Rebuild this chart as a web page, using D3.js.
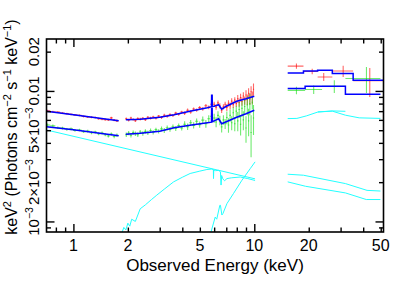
<!DOCTYPE html>
<html>
<head>
<meta charset="utf-8">
<script src="https://cdn.jsdelivr.net/npm/d3@7"></script>
<style>
body { margin: 0; background: #fff; }
svg { display: block; font-family: "Liberation Sans", Arial, Helvetica, sans-serif; }
</style>
</head>
<body>
<svg id="chart" width="399" height="291"></svg>
<script>
// ---- data (keV, keV^2 photons cm^-2 s^-1 keV^-1) ----
// soft band, below the 1.8-1.95 keV gap
const softE = [0.72, 0.77, 0.82, 0.87, 0.92, 0.97, 1.02, 1.08, 1.14, 1.2, 1.26, 1.32, 1.38, 1.44, 1.5, 1.56, 1.62, 1.68, 1.74];
const redSoft = [0.00705, 0.00692, 0.00688, 0.00676, 0.00670, 0.00662, 0.00655, 0.00650, 0.00638, 0.00632, 0.00628, 0.00626, 0.00612, 0.00608, 0.00603, 0.00600, 0.00622, 0.00598, 0.00590];
const redSoftErr = [0.00012, 0.00012, 0.00011, 0.00011, 0.00011, 0.00011, 0.00011, 0.00011, 0.00011, 0.00011, 0.00011, 0.00011, 0.00011, 0.00011, 0.00011, 0.00012, 0.00012, 0.00012, 0.00013];
const greenSoft = [0.00548, 0.00540, 0.00522, 0.00519, 0.00508, 0.00512, 0.00498, 0.00502, 0.00488, 0.00493, 0.00478, 0.00484, 0.00470, 0.00476, 0.00462, 0.00452, 0.00468, 0.00447, 0.00458];
const greenSoftErr = [0.00014, 0.00013, 0.00012, 0.00012, 0.00012, 0.00012, 0.00012, 0.00012, 0.00012, 0.00012, 0.00012, 0.00012, 0.00012, 0.00012, 0.00012, 0.00013, 0.00013, 0.00013, 0.00014];

// 1.95 - 10 keV
const midE = [1.96, 2.02, 2.08, 2.14, 2.2, 2.27, 2.34, 2.42, 2.5, 2.58, 2.67, 2.76, 2.86, 2.96, 3.07, 3.18, 3.3, 3.42, 3.55, 3.68,
  3.82, 3.97, 4.12, 4.28, 4.45, 4.62, 4.8, 4.99, 5.19, 5.4, 5.6, 5.8,
  6.0, 6.15, 6.3, 6.45, 6.6, 6.75, 6.9, 7.05, 7.2, 7.35, 7.5, 7.65, 7.8, 7.95, 8.1, 8.25, 8.4, 8.55, 8.7, 8.85, 9.0, 9.15, 9.3, 9.45, 9.6, 9.75, 9.9];
const redMid = [0.00612, 0.00598, 0.00620, 0.00604, 0.00592, 0.00615, 0.00608, 0.00618, 0.00603, 0.00628, 0.00619, 0.00632, 0.00617, 0.00641, 0.00626, 0.00652, 0.00640, 0.00658, 0.00648, 0.00676,
  0.00662, 0.00689, 0.00675, 0.00712, 0.00690, 0.00728, 0.00714, 0.00745, 0.00730, 0.00770, 0.00748, 0.00790,
  0.00790, 0.00752, 0.00810, 0.00770, 0.00712, 0.00755, 0.00790, 0.00748, 0.00805, 0.00770, 0.00835, 0.00786, 0.00850, 0.00800, 0.00872, 0.00815, 0.00890, 0.00830, 0.00915, 0.00845, 0.00930, 0.00860, 0.00960, 0.00870, 0.00985, 0.00890, 0.01030];
const redMidErr = [0.00014, 0.00014, 0.00014, 0.00014, 0.00014, 0.00014, 0.00014, 0.00014, 0.00014, 0.00014, 0.00014, 0.00014, 0.00014, 0.00014, 0.00016, 0.00016, 0.00016, 0.00016, 0.00016, 0.00016,
  0.00016, 0.00016, 0.0002, 0.0002, 0.0002, 0.0002, 0.0002, 0.0002, 0.00024, 0.00024, 0.00024, 0.00024,
  0.00035, 0.00035, 0.00035, 0.00035, 0.00035, 0.00035, 0.00035, 0.00045, 0.00045, 0.00045, 0.00045, 0.00045, 0.00045, 0.00045, 0.0006, 0.0006, 0.0006, 0.0006, 0.0006, 0.0006, 0.0008, 0.0008, 0.0009, 0.0009, 0.001, 0.001, 0.0011];
const greenMid = [0.00462, 0.00475, 0.00458, 0.00480, 0.00470, 0.00462, 0.00485, 0.00472, 0.00490, 0.00478, 0.00498, 0.00482, 0.00505, 0.00490, 0.00512, 0.00498, 0.00522, 0.00508, 0.00530, 0.00515,
  0.00542, 0.00520, 0.00556, 0.00532, 0.00570, 0.00545, 0.00585, 0.00552, 0.00598, 0.00560, 0.00612, 0.00640,
  0.00620, 0.00578, 0.00650, 0.00595, 0.00530, 0.00600, 0.00560, 0.00625, 0.00548, 0.00650, 0.00570, 0.00680, 0.00560, 0.00700, 0.00590, 0.00720, 0.00555, 0.00735, 0.00600, 0.00760, 0.00520, 0.00780, 0.00590, 0.00800, 0.00480, 0.00820, 0.00620];
const greenMidErr = [0.00018, 0.00018, 0.00018, 0.00018, 0.00018, 0.00018, 0.00018, 0.00018, 0.00018, 0.00018, 0.00018, 0.00018, 0.00018, 0.00018, 0.00022, 0.00022, 0.00022, 0.00022, 0.00022, 0.00022,
  0.00022, 0.00022, 0.0003, 0.0003, 0.0003, 0.0003, 0.0003, 0.0003, 0.00038, 0.00038, 0.00038, 0.00038,
  0.0005, 0.0005, 0.0005, 0.0005, 0.0005, 0.0005, 0.0005, 0.0007, 0.0007, 0.0007, 0.0007, 0.0007, 0.0007, 0.0007, 0.001, 0.001, 0.001, 0.001, 0.001, 0.001, 0.0012, 0.0013, 0.0014, 0.0015, 0.0017, 0.0010, 0.0016];

// hard band bins (15 - 52 keV)
const redHardLo = [15.3, 18.7, 22.4, 27.0, 35.2];
const redHardHi = [18.7, 22.4, 27.0, 35.2, 52];
const redHardE = [17.1, 20.9, 24.2, 31.0, 43.5];
const redHard = [0.0155, 0.0141, 0.0128, 0.0142, 0.0120];
const redHardErr = [0.0007, 0.0007, 0.0009, 0.0014, 0.0030];
const greenHardLo = [15.3, 19.1, 23.7, 31.9];
const greenHardHi = [19.1, 23.7, 31.9, 49.8];
const greenHardE = [17.1, 21.3, 27.7, 41.7];
const greenHard = [0.0101, 0.01025, 0.01086, 0.01245];
const greenHardErr = [0.00066, 0.00077, 0.0012, 0.0028];

// folded models (blue); null = gap between bands
const modelE = [0.71, 1.0, 1.78, 1.86, 1.95, 2.34, 3.0, 3.6, 4.4, 5.5, 5.8, 5.81, 5.85, 5.86, 6.0, 6.35, 6.6, 7.0, 8.0, 9.0, 10.0];
const model1 = [0.00699, 0.00657, 0.00591, null, 0.00602, 0.00607, 0.00629, 0.00657, 0.00699, 0.00743, 0.00757, 0.00927, 0.00927, 0.00760, 0.00763, 0.00784, 0.00724, 0.00763, 0.00834, 0.00872, 0.00911];
const model2 = [0.00532, 0.00504, 0.00454, null, 0.00466, 0.00474, 0.00491, 0.00522, 0.00546, 0.00571, 0.00576, 0.00737, 0.00737, 0.00581, 0.00590, 0.00612, 0.00561, 0.00581, 0.00629, 0.00669, 0.00711];
const model1Hard = [0.01374, 0.01423, 0.01441, 0.01359, 0.01208];
const model2Hard = [0.01043, 0.01086, 0.01086, 0.00943];

// model components (cyan)
const powE = [0.71, 10.1];
const powV = [0.00502, 0.00212];
const reflE = [1.85, 1.9, 1.95, 2.0, 2.05, 2.1, 2.2, 2.34, 2.5, 2.7, 2.89, 3.2, 3.58, 4.0, 4.42, 5.0, 5.47, 5.8, 5.94, 5.95, 5.97, 6.1, 6.35, 6.5, 6.55, 6.6, 6.7, 6.85, 7.06, 7.5, 8.37, 9.2, 10.1];
const reflV = [0.00081, 0.00090, 0.00086, 0.00097, 0.00092, 0.00104, 0.00100, 0.00125, 0.00134, 0.00147, 0.00159, 0.00178, 0.00201, 0.00218, 0.00233, 0.00243, 0.00250, 0.00252, 0.00250, 0.00213, 0.00248, 0.00245, 0.00246, 0.00240, 0.00190, 0.00225, 0.00212, 0.00205, 0.00213, 0.00216, 0.00219, 0.00213, 0.00206];
const hotE = [5.6, 6.08, 6.2, 6.45, 6.5, 6.62, 6.71, 7.06, 7.68, 8.55, 9.5, 10.1];
const hotV = [0.00072, 0.00108, 0.00104, 0.00133, 0.00133, 0.00112, 0.00115, 0.00137, 0.00164, 0.00207, 0.00254, 0.00286];
const humpE = [15.3, 17.2, 19.5, 22.5, 27, 31.9];
const humpV = [0.00614, 0.00616, 0.00645, 0.00690, 0.00703, 0.00698];
const hump2E = [22.5, 27, 31.9, 38, 49.8];
const hump2V = [0.00690, 0.00700, 0.00652, 0.00622, 0.00616];
const tailE = [15.3, 18.7, 31.9, 42, 49.8];
const tailV = [0.00230, 0.00226, 0.00195, 0.00173, 0.00171];
const tail2E = [15.3, 19.2, 31.9, 41.6, 49.8];
const tail2V = [0.00201, 0.00186, 0.001654, 0.001472, 0.001472];

// axis ticks
const xMajor = [1, 10];
const xMinor = [0.8, 0.9, 2, 3, 4, 5, 6, 7, 8, 9, 20, 30, 40, 50];
const xLabels = [1, 2, 5, 10, 20, 50];
const yMajor = [0.001, 0.01];
const yMinor = [0.0009, 0.002, 0.003, 0.004, 0.005, 0.006, 0.007, 0.008, 0.009, 0.02];
const yLabelVals = [0.001, 0.002, 0.005, 0.01, 0.02];
const yLabelBase = ["10", "2\u00d710", "5\u00d710", "0.01", "0.02"];
const yLabelExp = ["\u22123", "\u22123", "\u22123", "", ""];

// ---- layout ----
const margin = {top: 39, right: 15.5, bottom: 59, left: 46.5};
const width = 399 - margin.left - margin.right;
const height = 291 - margin.top - margin.bottom;

const x = d3.scaleLog().domain([0.71, 51.8]).range([0, width]);
const y = d3.scaleLog().domain([8.3e-4, 0.025]).range([height, 0]);

const svg = d3.select("#chart");
const g = svg.append("g").attr("transform", `translate(${margin.left},${margin.top})`);

svg.append("defs").append("clipPath").attr("id", "plotclip")
  .append("rect").attr("width", width).attr("height", height);

const plot = g.append("g").attr("clip-path", "url(#plotclip)");

// build error-cross records; bin edges from neighbouring channels
function crosses(E, V, err) {
  return E.map((e, i) => {
    let lo = i > 0 ? Math.sqrt(E[i - 1] * e) : null;
    let hi = i < E.length - 1 ? Math.sqrt(E[i + 1] * e) : null;
    if (lo === null) lo = e * e / hi;
    if (hi === null) hi = e * e / lo;
    return {e, v: V[i], err: err[i], lo, hi};
  });
}
function binCrosses(E, lo, hi, V, err) {
  return E.map((e, i) => ({e, v: V[i], err: err[i], lo: lo[i], hi: hi[i]}));
}

function drawCrosses(data, color, cls) {
  const sel = plot.append("g").attr("class", cls)
    .attr("stroke", color).attr("stroke-opacity", 0.6).attr("stroke-width", 1.1);
  sel.selectAll("line.v").data(data).join("line").attr("class", "v")
    .attr("x1", d => x(d.e)).attr("x2", d => x(d.e))
    .attr("y1", d => y(d.v + d.err)).attr("y2", d => y(Math.max(d.v - d.err, 1e-4)));
  sel.selectAll("line.h").data(data).join("line").attr("class", "h")
    .attr("x1", d => x(d.lo)).attr("x2", d => x(d.hi))
    .attr("y1", d => y(d.v)).attr("y2", d => y(d.v));
}

const line = d3.line()
  .defined(d => d[1] != null)
  .x(d => x(d[0]))
  .y(d => y(d[1]));
const stepLine = d3.line().curve(d3.curveStepAfter)
  .x(d => x(d[0]))
  .y(d => y(d[1]));

function pairs(E, V) { return E.map((e, i) => [e, V[i]]); }
function steps(lo, hi, V) {
  const p = lo.map((e, i) => [e, V[i]]);
  p.push([hi[hi.length - 1], V[V.length - 1]]);
  return p;
}

// cyan components
const comps = [pairs(powE, powV), pairs(reflE, reflV), pairs(hotE, hotV),
  pairs(humpE, humpV), pairs(hump2E, hump2V), pairs(tailE, tailV), pairs(tail2E, tail2V)];
plot.selectAll("path.comp").data(comps).join("path")
  .attr("class", "comp")
  .attr("d", line)
  .attr("fill", "none")
  .attr("stroke", "#22ffff")
  .attr("stroke-width", 1);

// data
drawCrosses(crosses(softE, redSoft, redSoftErr), "#ff0000", "red-soft");
drawCrosses(crosses(midE, redMid, redMidErr), "#ff0000", "red-mid");
drawCrosses(binCrosses(redHardE, redHardLo, redHardHi, redHard, redHardErr), "#ff0000", "red-hard");
drawCrosses(crosses(softE, greenSoft, greenSoftErr), "#11dd11", "green-soft");
drawCrosses(crosses(midE, greenMid, greenMidErr), "#11dd11", "green-mid");
drawCrosses(binCrosses(greenHardE, greenHardLo, greenHardHi, greenHard, greenHardErr), "#11dd11", "green-hard");

// folded models
plot.selectAll("path.model").data([pairs(modelE, model1), pairs(modelE, model2)]).join("path")
  .attr("class", "model")
  .attr("d", line)
  .attr("fill", "none")
  .attr("stroke", "#0000ff")
  .attr("stroke-width", 1.5);
plot.selectAll("path.modelHard")
  .data([steps(redHardLo, redHardHi, model1Hard), steps(greenHardLo, greenHardHi, model2Hard)])
  .join("path")
  .attr("class", "modelHard")
  .attr("d", stepLine)
  .attr("fill", "none")
  .attr("stroke", "#0000ff")
  .attr("stroke-width", 1.5);

// frame and inward ticks
g.append("rect")
  .attr("width", width).attr("height", height)
  .attr("fill", "none").attr("stroke", "#000").attr("stroke-width", 1.6);

function tickAxis(axisFn, scale, values, len, transform) {
  const a = g.append("g")
    .attr("transform", transform)
    .call(axisFn(scale).tickValues(values).tickSizeInner(-len).tickSizeOuter(0).tickFormat(""));
  a.select(".domain").remove();
  a.selectAll(".tick line").attr("stroke", "#000").attr("stroke-width", 1.4);
}
tickAxis(d3.axisBottom, x, xMajor, 8, `translate(0,${height})`);
tickAxis(d3.axisBottom, x, xMinor, 4.5, `translate(0,${height})`);
tickAxis(d3.axisTop, x, xMajor, 8, "translate(0,0)");
tickAxis(d3.axisTop, x, xMinor, 4.5, "translate(0,0)");
tickAxis(d3.axisLeft, y, yMajor, 8, "translate(0,0)");
tickAxis(d3.axisLeft, y, yMinor, 4.5, "translate(0,0)");
tickAxis(d3.axisRight, y, yMajor, 8, `translate(${width},0)`);
tickAxis(d3.axisRight, y, yMinor, 4.5, `translate(${width},0)`);

// tick labels
g.selectAll("text.xlab").data(xLabels).join("text")
  .attr("class", "xlab")
  .attr("x", d => x(d))
  .attr("y", height + 18.5)
  .attr("text-anchor", "middle")
  .attr("font-size", 16)
  .attr("fill", "#000")
  .text(d => d);

const ylab = g.selectAll("text.ylab").data(yLabelVals).join("text")
  .attr("class", "ylab")
  .attr("transform", d => `translate(-8,${y(d)}) rotate(-90)`)
  .attr("text-anchor", "middle")
  .attr("font-size", 15)
  .attr("fill", "#000");
ylab.append("tspan").text((d, i) => yLabelBase[i]);
ylab.append("tspan").attr("dy", -6).attr("font-size", 10.5).text((d, i) => yLabelExp[i]);

// axis titles
svg.append("text")
  .attr("x", margin.left + width / 2)
  .attr("y", 271)
  .attr("text-anchor", "middle")
  .attr("font-size", 17)
  .attr("fill", "#000")
  .text("Observed Energy (keV)");

const yTitle = svg.append("text")
  .attr("transform", "translate(17,127) rotate(-90)")
  .attr("text-anchor", "middle")
  .attr("font-size", 16)
  .attr("fill", "#000");
const titleParts = [["keV", 0], ["2", -6], [" (Photons cm", 6], ["\u22122", -6], [" s", 6], ["\u22121", -6], [" keV", 6], ["\u22121", -6], [")", 6]];
yTitle.selectAll("tspan").data(titleParts).join("tspan")
  .attr("dy", d => d[1])
  .attr("font-size", d => d[1] < 0 ? 11 : 16)
  .text(d => d[0]);
</script>
</body>
</html>
